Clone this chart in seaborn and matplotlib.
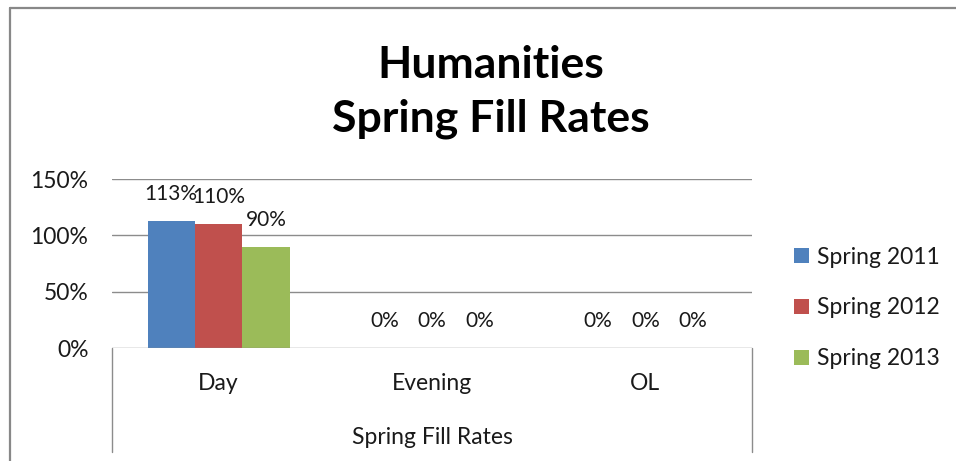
import matplotlib
matplotlib.use("Agg")
import matplotlib.pyplot as plt
from matplotlib.lines import Line2D
from matplotlib.patches import Patch
import seaborn as sns
import pandas as pd

categories = ["Day", "Evening", "OL"]
series_names = ["Spring 2011", "Spring 2012", "Spring 2013"]
spring_2011 = [1.13, 0.0, 0.0]
spring_2012 = [1.10, 0.0, 0.0]
spring_2013 = [0.90, 0.0, 0.0]
y_ticks = [0, 0.5, 1.0, 1.5]
y_tick_labels = ["0%", "50%", "100%", "150%"]
colors = ["#4F81BD", "#C0504D", "#9BBB59"]

rows = []
for name, vals in zip(series_names, [spring_2011, spring_2012, spring_2013]):
    for c, v in zip(categories, vals):
        rows.append({"cat": c, "series": name, "val": v})
df = pd.DataFrame(rows)

sns.set_theme(style="white")
plt.rcParams["font.family"] = ["Lato", "DejaVu Sans"]

W, H = 956, 461
fig = plt.figure(figsize=(W / 100, H / 100), dpi=100)
fig.patch.set_facecolor("white")

FS = 16.5
TXT = "#1a1a1a"

left, right, top, bottom = 112, 752, 179, 348
ax = fig.add_axes([left / W, (H - bottom) / H, (right - left) / W, (bottom - top) / H])

sns.barplot(data=df, x="cat", y="val", hue="series", order=categories,
            hue_order=series_names, palette=colors, width=0.667, gap=0,
            saturation=1, ax=ax, legend=False, linewidth=0, errorbar=None)

ax.set_ylim(0, 1.5)
ax.set_xlim(-0.5, 2.5)
ax.set_yticks(y_ticks)
ax.set_yticklabels(y_tick_labels, fontsize=FS, color=TXT)
ax.tick_params(axis="y", length=0, pad=17)
ax.tick_params(axis="x", length=0, pad=18, labelsize=FS, labelcolor=TXT)
ax.set_xlabel("Spring Fill Rates", fontsize=FS, color=TXT, labelpad=24)
ax.set_ylabel("")
for s in ax.spines.values():
    s.set_visible(False)
ax.grid(False)
for yv in [0.5, 1.0, 1.5]:
    ax.axhline(yv, color="#8c8c8c", lw=1.0, zorder=0)
ax.axhline(0, color="#8c8c8c", lw=1.0, zorder=3)
ext = -(452 - bottom) / (bottom - top)
for xa in [0, 1]:
    ax.plot([xa, xa], [0, ext], transform=ax.transAxes, color="#8c8c8c",
            lw=1.0, clip_on=False)

for cont in ax.containers:
    ax.bar_label(cont, labels=[f"{v*100:.0f}%" for v in cont.datavalues],
                 padding=12, fontsize=15, color=TXT)

handles = [Patch(facecolor=c, edgecolor="none") for c in colors]
fig.legend(handles, series_names, loc="center left", bbox_to_anchor=(785 / W, (H - 308) / H),
           frameon=False, fontsize=FS, handlelength=0.65, handleheight=0.65,
           handletextpad=0.35, labelspacing=1.3, labelcolor=TXT, borderaxespad=0)

fig.text(491 / W, (H - 92) / H, "Humanities\nSpring Fill Rates", ha="center", va="center",
         fontsize=32, fontweight="bold", color="black", linespacing=1.4)

fig.add_artist(Line2D([10 / W, 1], [(H - 8) / H, (H - 8) / H], color="#888888", lw=1.6))
fig.add_artist(Line2D([10 / W, 10 / W], [0, (H - 8) / H], color="#888888", lw=1.6))

fig.savefig("out.png", dpi=100, facecolor="white")
